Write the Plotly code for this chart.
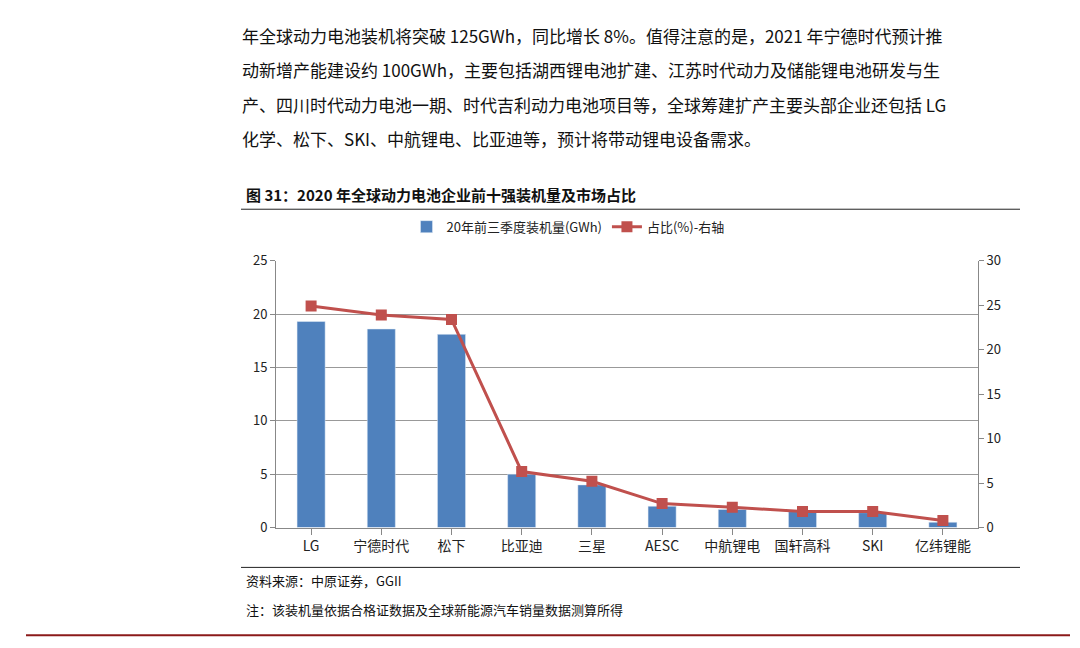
import plotly.graph_objects as go

# 数据
companies = ['LG', '宁德时代', '松下', '比亚迪', '三星', 'AESC', '中航锂电', '国轩高科', 'SKI', '亿纬锂能']
install_gwh = [19.3, 18.6, 18.1, 5.0, 4.0, 2.0, 1.7, 1.5, 1.4, 0.5]
share_pct = [24.9, 23.9, 23.4, 6.3, 5.2, 2.7, 2.3, 1.8, 1.8, 0.8]

body_lines = [
    '年全球动力电池装机将突破 125GWh，同比增长 8%。值得注意的是，2021 年宁德时代预计推',
    '动新增产能建设约 100GWh，主要包括湖西锂电池扩建、江苏时代动力及储能锂电池研发与生',
    '产、四川时代动力电池一期、时代吉利动力电池项目等，全球筹建扩产主要头部企业还包括 LG',
    '化学、松下、SKI、中航锂电、比亚迪等，预计将带动锂电设备需求。',
]
title_text = '图 31：2020 年全球动力电池企业前十强装机量及市场占比'
notes = ['资料来源：中原证券，GGII', '注：该装机量依据合格证数据及全球新能源汽车销量数据测算所得']

W, H = 1080, 648
px = lambda x: x / W
py = lambda y: 1 - y / H

fig = go.Figure()
fig.add_trace(go.Bar(x=companies, y=install_gwh, name='20年前三季度装机量(GWh)',
                     marker=dict(color='#4f81bd'), width=0.4))
fig.add_trace(go.Scatter(x=companies, y=share_pct, name='占比(%)-右轴', yaxis='y2',
                         mode='lines+markers',
                         line=dict(color='#c0504d', width=3),
                         marker=dict(symbol='square', size=11, color='#c0504d')))

font_cn = 'Noto Sans CJK SC'
ann = []
for i, t in enumerate(body_lines):
    ann.append(dict(text=t, x=px(232), y=py(18 + i * 35.3), xref='paper', yref='paper',
                    xanchor='left', yanchor='middle',
                    showarrow=False, font=dict(size=17, color='#111')))
ann.append(dict(text='<b>' + title_text + '</b>', x=px(236), y=py(182), xref='paper', yref='paper',
                xanchor='left', yanchor='middle', showarrow=False, font=dict(size=15, color='#111')))
for i, t in enumerate(notes):
    ann.append(dict(text=t, x=px(236), y=py(580 + i * 29), xref='paper', yref='paper',
                    xanchor='left', yanchor='middle',
                    showarrow=False, font=dict(size=13, color='#111')))

shapes = [
    dict(type='line', xref='paper', yref='paper', x0=px(233), x1=px(1012), y0=py(197), y1=py(197),
         line=dict(color='#222', width=1)),
    dict(type='line', xref='paper', yref='paper', x0=px(233), x1=px(1012), y0=py(566), y1=py(566),
         line=dict(color='#222', width=1)),
    dict(type='line', xref='paper', yref='paper', x0=px(18), x1=px(1062), y0=py(636), y1=py(636),
         line=dict(color='#8b1a1a', width=2)),
]

fig.update_layout(
    width=W, height=H,
    margin=dict(l=0, r=0, t=0, b=0),
    paper_bgcolor='white', plot_bgcolor='white',
    font=dict(family=font_cn, color='#222'),
    showlegend=True,
    legend=dict(orientation='h', x=px(560), y=py(215), xanchor='center', yanchor='middle',
                font=dict(size=13), bgcolor='rgba(0,0,0,0)'),
    bargap=0.6,
    xaxis=dict(domain=[px(268), px(970)], range=[-0.5, 9.5], showline=True, linecolor='#888',
               ticks='outside', ticklen=6, tickcolor='#888', tickfont=dict(size=14),
               showgrid=False),
    yaxis=dict(domain=[py(525), py(250)], range=[0, 25], dtick=5, showline=True, linecolor='#888',
               ticks='outside', ticklen=5, tickcolor='#888', gridcolor='#999', gridwidth=1,
               tickfont=dict(size=13), zeroline=False),
    yaxis2=dict(overlaying='y', side='right', range=[0, 30], dtick=5, showline=True,
                linecolor='#888', ticks='outside', ticklen=5, tickcolor='#888', showgrid=False,
                tickfont=dict(size=13), zeroline=False),
    annotations=ann,
    shapes=shapes,
)

fig.write_html('out.html')
